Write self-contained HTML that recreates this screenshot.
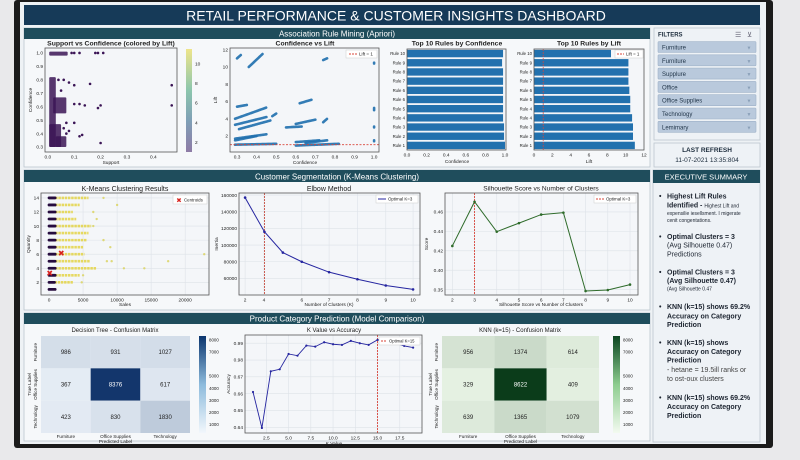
<!DOCTYPE html>
<html><head><meta charset="utf-8"><style>
html,body{margin:0;padding:0;background:#e9e9eb;}
svg{display:block;font-family:"Liberation Sans",sans-serif;}
</style></head><body>
<svg id="dash" width="800" height="460" viewBox="0 0 800 460" xmlns="http://www.w3.org/2000/svg">
<defs>
<linearGradient id="viridis" x1="0" y1="1" x2="0" y2="0"><stop offset="0" stop-color="#8e7ba6"/><stop offset="0.3" stop-color="#7f9fb6"/><stop offset="0.6" stop-color="#8cc6ad"/><stop offset="1" stop-color="#eee58a"/></linearGradient>
<linearGradient id="blues" x1="0" y1="1" x2="0" y2="0"><stop offset="0" stop-color="#f2f7fc"/><stop offset="0.5" stop-color="#8dbbdc"/><stop offset="1" stop-color="#0b356e"/></linearGradient>
<linearGradient id="greens" x1="0" y1="1" x2="0" y2="0"><stop offset="0" stop-color="#f3faf0"/><stop offset="0.5" stop-color="#8dcd8f"/><stop offset="1" stop-color="#0b4520"/></linearGradient>
</defs>
<rect x="0" y="0" width="800" height="460" fill="#e9e9eb"/>
<rect x="14" y="0" width="759" height="448" rx="3" fill="#1b1b1b"/>
<rect x="20" y="2" width="746" height="442" fill="#eef2f5"/>
<rect x="24" y="5" width="736" height="20" fill="#163a58"/>
<text x="396" y="20.5" text-anchor="middle" font-size="14" fill="#fff">RETAIL PERFORMANCE &amp; CUSTOMER INSIGHTS DASHBOARD</text>

<rect x="24" y="28" width="626" height="139" fill="#f6f8fa" stroke="#bcc6cf" stroke-width="0.8"/>
<rect x="24" y="28" width="626" height="11" fill="#1f4d5c"/>
<text x="337" y="36.5" text-anchor="middle" font-size="8" fill="#fff">Association Rule Mining (Apriori)</text>

<rect x="24" y="170" width="626" height="140" fill="#f6f8fa" stroke="#bcc6cf" stroke-width="0.8"/>
<rect x="24" y="170" width="626" height="12" fill="#1f4d5c"/>
<text x="337" y="179.5" text-anchor="middle" font-size="8" fill="#fff">Customer Segmentation (K-Means Clustering)</text>

<rect x="24" y="313" width="626" height="128" fill="#f6f8fa" stroke="#bcc6cf" stroke-width="0.8"/>
<rect x="24" y="313" width="626" height="11" fill="#1f4d5c"/>
<text x="337" y="321.5" text-anchor="middle" font-size="8" fill="#fff">Product Category Prediction (Model Comparison)</text>

<rect x="654" y="28" width="106" height="112" fill="#eef2f6" stroke="#bcc6cf" stroke-width="0.8"/>
<text x="658" y="36.5" font-size="6" font-weight="bold" fill="#1c2c3c">FILTERS</text>
<text x="735" y="37" font-size="7" fill="#667">☰</text>
<text x="747" y="37" font-size="7" fill="#667">⊻</text>
<g id="filters"></g>

<rect x="654" y="143" width="106" height="24" fill="#eef2f6" stroke="#bcc6cf" stroke-width="0.8"/>
<text x="707" y="152" text-anchor="middle" font-size="6.5" font-weight="bold" fill="#1c2c3c">LAST REFRESH</text>
<text x="707" y="162" text-anchor="middle" font-size="6.5" fill="#1c2c3c">11-07-2021 13:35:804</text>

<rect x="653" y="170" width="107" height="272" fill="#eef2f6" stroke="#bcc6cf" stroke-width="0.8"/>
<rect x="653" y="170" width="107" height="13" fill="#1f4d5c"/>
<text x="706" y="179.5" text-anchor="middle" font-size="7.5" fill="#fff">EXECUTIVE SUMMARY</text>
<g font-size="7" fill="#1c2430">
<text x="659" y="198.5" font-weight="bold">•</text>
<text x="667" y="198.5" font-weight="bold">Highest Lift Rules</text>
<text x="667" y="207.5" font-weight="bold">Identified - <tspan font-size="5" font-weight="normal">Highest Lift and</tspan></text>
<text x="667" y="215" font-size="5">expensilie iesellsment. I migerate</text>
<text x="667" y="222" font-size="5">cenit congentations.</text>
<text x="659" y="239" font-weight="bold">•</text>
<text x="667" y="239" font-weight="bold">Optimal Clusters = 3</text>
<text x="667" y="247.7">(Avg Silhouette 0.47)</text>
<text x="667" y="256.3">Predictions</text>
<text x="659" y="274.3" font-weight="bold">•</text>
<text x="667" y="274.3" font-weight="bold">Optimal Clusters = 3</text>
<text x="667" y="283" font-weight="bold">(Avg Silhouette 0.47)</text>
<text x="667" y="290.5" font-size="5">(Avg Silhouette 0.47</text>
<text x="659" y="309" font-weight="bold">•</text>
<text x="667" y="309" font-weight="bold">KNN (k=15) shows 69.2%</text>
<text x="667" y="318.3" font-weight="bold">Accuracy on Category</text>
<text x="667" y="327" font-weight="bold">Prediction</text>
<text x="659" y="345" font-weight="bold">•</text>
<text x="667" y="345" font-weight="bold">KNN (k=15) shows</text>
<text x="667" y="354" font-weight="bold">Accuracy  on Category</text>
<text x="667" y="362.7" font-weight="bold">Prediction</text>
<text x="667" y="372" fill="#444">- hetane = 19.5ill ranks or</text>
<text x="667" y="381" fill="#444">to ost-oux clusters</text>
<text x="659" y="400" font-weight="bold">•</text>
<text x="667" y="400" font-weight="bold">KNN (k=15) shows 69.2%</text>
<text x="667" y="409" font-weight="bold">Accuracy on Category</text>
<text x="667" y="418" font-weight="bold">Prediction</text>
</g>
<g id="charts"></g>
</svg>
<script>
// ---------- data ----------
const filterLabels = ["Furniture","Furniture","Supplure","Office","Office Supplies","Technology","Lemimary"];

// Support vs Confidence
const scBlobs = [[0.005,0.075,0.98,1.01],[0.005,0.03,0.3,0.82],[0.02,0.07,0.55,0.67],[0.005,0.05,0.3,0.47],[0.03,0.07,0.3,0.38]];
const scSupport = [0.09,0.1,0.12,0.18,0.19,0.21,0.04,0.06,0.08,0.1,0.16,0.1,0.12,0.14,0.2,0.19,0.47,0.47,0.07,0.1,0.08,0.06,0.12,0.13,0.2,0.07,0.05];
const scConf =    [1.0,1.0,1.0,1.0,1.0,1.0,0.8,0.8,0.78,0.76,0.77,0.62,0.62,0.61,0.61,0.59,0.76,0.61,0.48,0.48,0.42,0.44,0.38,0.39,0.33,0.4,0.72];
const liftTicks = [2,4,6,8,10];

// Confidence vs Lift (bands of points: conf0, lift0, conf1, lift1)
const clBands = [[0.29,1.0,0.5,1.1],[0.29,1.5,0.4,2.0],[0.29,1.7,0.45,2.2],[0.29,3.3,0.45,4.2],[0.31,2.8,0.47,3.8],[0.29,4.0,0.45,5.3],[0.3,5.4,0.35,5.6],[0.3,11.0,0.32,11.4],[0.36,10.0,0.43,11.5],[0.55,3.0,0.63,3.1],[0.6,3.4,0.7,3.9],[0.65,1.2,0.76,1.5],[0.6,0.9,0.82,1.1],[0.6,1.3,0.72,1.5],[0.74,3.6,0.76,4.0],[0.74,10.8,0.76,11.0],[1.0,10.4,1.0,10.5],[1.0,5.0,1.0,5.3],[1.0,3.0,1.0,3.1],[1.0,1.4,1.0,1.5],[0.62,5.8,0.68,6.2],[0.48,4.3,0.5,4.6]];

// Top rules
const confRules = ["Rule 10","Rule 9","Rule 8","Rule 7","Rule 6","Rule 6","Rule 5","Rule 4","Rule 3","Rule 2","Rule 1"];
const confValues = [0.98,0.97,0.98,0.98,0.98,0.98,0.98,0.98,0.99,0.99,1.0];
const liftRules = ["Rule 10","Rule 9","Rule 8","Rule 7","Rule 6","Rule 5","Rule 4","Rule 4","Rule 3","Rule 2","Rule 1"];
const liftValues = [8.4,10.3,10.3,10.3,10.4,10.5,10.5,10.7,10.8,10.8,11.0];

// K-Means
const kmQty = [1,2,3,4,5,6,7,8,9,10,11,12,13,14];
const kmDarkMax = [900,800,900,900,900,900,900,900,900,900,900,900,900,900];
const kmYellowMax = [1000,3500,4500,7000,6000,5200,5000,5500,5800,6200,4000,3500,4500,5800];
const kmOutSales = [8000,10000,6500,7000,6500,8000,9000,22800,17500,8500,9200,11000,14000,4800,5000];
const kmOutQty =   [14,13,12,11,10,8,7,6,5,5,5,4,4,2,3];
const kmCentSales = [1800,100];
const kmCentQty = [6.2,3.3];

// Elbow
const elbowK = [2,2.92,3.8,4.7,6,7.35,8.7,10];
const elbowInertia = [157000,116000,91000,80000,67500,59000,51500,46800];
const elbowTickVals = [2,2.9,4.7,6,7.35,8.7,10];
const elbowTickLabels = ["2","4","6","7","8","9","10"];

// Silhouette
const silK = [2,3,4,5,6,7,8,9,10];
const silScore = [0.425,0.4705,0.4397,0.4485,0.4573,0.4593,0.3786,0.3796,0.3852];
const silTickVals = [0.38,0.40,0.42,0.44,0.46];
const silTickLabels = ["0.35","0.40","0.42","0.44","0.46"];

// K vs accuracy
const accK = [1,2,3,4,5,6,7,8,9,10,11,12,13,14,15,16,17,18,19];
const accVal = [0.961,0.9396,0.9733,0.9745,0.9836,0.9826,0.9886,0.988,0.9906,0.9894,0.989,0.9914,0.99,0.989,0.992,0.991,0.99,0.9884,0.9874];
const accTickVals = [0.94,0.95,0.96,0.97,0.98,0.99];
const accTickLabels = ["0.64","0.65","0.66","0.67","0.98","0.99"];

// Confusion matrices
const cmClasses = ["Furniture","Office Supplies","Technology"];
const dtMatrix = [[986,931,1027],[367,8376,617],[423,830,1830]];
const knnMatrix = [[956,1374,614],[329,8622,409],[639,1365,1079]];
const cbTicks = [1000,2000,3000,4000,5000,7000,8000];

// ---------- helpers ----------
const NS = "http://www.w3.org/2000/svg";
const root = document.getElementById('charts');
function mk(tag, attrs, parent){const e=document.createElementNS(NS,tag);for(const k in attrs)e.setAttribute(k,attrs[k]);(parent||root).appendChild(e);return e;}
function lin(d0,d1,r0,r1){return v=>r0+(v-d0)/(d1-d0)*(r1-r0);}
function txt(x,y,s,size,anchor,parent,extra){const t=mk('text',Object.assign({x:x,y:y,'font-size':size,'text-anchor':anchor||'middle',fill:'#222'},extra||{}),parent);t.textContent=s;return t;}
function lerpColor(a,b,t){const pa=[1,3,5].map(i=>parseInt(a.substr(i,2),16)),pb=[1,3,5].map(i=>parseInt(b.substr(i,2),16));return 'rgb('+pa.map((v,i)=>Math.round(v+(pb[i]-v)*t)).join(',')+')';}

function frame(name,x0,y0,x1,y1,xTickV,xTickL,xs,yTickV,yTickL,ys,grid){
  const g=mk('g',{});
  
  
  const bg=mk('rect',{x:x0,y:y0,width:x1-x0,height:y1-y0,fill:'#f4f6f9'},g);
  
  
  xTickV.forEach((v,i)=>{
    const px=xs(v);
    if(grid){const l=mk('line',{x1:px,x2:px,y1:y0,y2:y1,stroke:'#dde2e8','stroke-width':0.6},g);}
    const t=txt(px,y1+6.5,xTickL[i],4.8,'middle',g);
    
    
  });
  yTickV.forEach((v,i)=>{
    const py=ys(v);
    if(grid){const l=mk('line',{x1:x0,x2:x1,y1:py,y2:py,stroke:'#dde2e8','stroke-width':0.6},g);}
    const t=txt(x0-2,py+1.7,yTickL[i],4.8,'end',g);
    
    
  });
  return g;
}
function border(g,x0,y0,x1,y1){const b=mk('rect',{x:x0,y:y0,width:x1-x0,height:y1-y0,fill:'none',stroke:'#555','stroke-width':0.8},g);}
function title(x,y,s,size,bold){const t=txt(x,y,s,size,'middle',root,bold?{'font-weight':'bold'}:{});return t;}
function axisTitle(x,y,s,rot){const t=txt(x,y,s,4.8,'middle',root,rot?{transform:'rotate(-90 '+x+' '+y+')'}:{});}

// ---------- filters ----------
const fg=document.getElementById('filters');
filterLabels.forEach((f,i)=>{
  const y=41.5+i*13.3;
  const r=mk('rect',{x:658,y:y,width:98,height:11,fill:'#b9c9dc',stroke:'#9fb2c8','stroke-width':0.6,rx:1},fg);
  
  
  const t=txt(662,y+8,f,6,'start',fg,{fill:'#1f3347'});
  
  
  const a=txt(749,y+8,'▼',5,'middle',fg,{fill:'#8aa0b8'});
  
  
});

// ---------- Chart 1: Support vs Confidence ----------
(function(){
  const x0=45,x1=177,y0=48,y1=152;
  const xs=lin(-0.011,0.49,x0,x1), ys=lin(0.263,1.037,y1,y0);
  title(111,45.5,'Support vs Confidence (colored by Lift)',6.8,true);
  const g=frame('support-confidence-chart',x0,y0,x1,y1,[0,0.1,0.2,0.3,0.4],['0.0','0.1','0.2','0.3','0.4'],xs,[0.3,0.4,0.5,0.6,0.7,0.8,0.9,1.0],['0.3','0.4','0.5','0.6','0.7','0.8','0.9','1.0'],ys,false);
  scBlobs.forEach(b=>{
    const r=mk('rect',{x:xs(b[0]),y:ys(b[3]),width:xs(b[1])-xs(b[0]),height:ys(b[2])-ys(b[3]),fill:'#3b1556',opacity:0.85,rx:1},g);
    
    
  });
  scSupport.forEach((s,i)=>{
    const c=mk('circle',{cx:xs(s),cy:ys(scConf[i]),r:1.3,fill:'#3b1556'},g);
    
    
  });
  border(g,x0,y0,x1,y1);
  axisTitle(111,164,'Support');
  axisTitle(32,100,'Confidence',true);
  const cb=mk('rect',{x:186,y:49,width:6,height:103,fill:'url(#viridis)'});
  
  
  const cs=lin(1,11.5,152,49);
  liftTicks.forEach(v=>{const t=txt(195,cs(v)+1.7,String(v),4.8,'start');});
})();

// ---------- Chart 2: Confidence vs Lift ----------
(function(){
  const x0=230,x1=379,y0=48,y1=152;
  const xs=lin(0.264,1.025,x0,x1), ys=lin(0.15,12.2,y1,y0);
  title(305,45.5,'Confidence vs Lift',6.8,true);
  const g=frame('confidence-lift-chart',x0,y0,x1,y1,[0.3,0.4,0.5,0.6,0.7,0.8,0.9,1.0],['0.3','0.4','0.5','0.6','0.7','0.8','0.9','1.0'],xs,[2,4,6,8,10,12],['2','4','6','8','10','12'],ys,false);
  clBands.forEach(b=>{
    const l=mk('line',{x1:xs(b[0]),y1:ys(b[1]),x2:xs(b[2]),y2:ys(b[3]),stroke:'#1f6fae','stroke-width':2.6,'stroke-linecap':'round','stroke-dasharray':'2.2 0.6',opacity:0.9},g);
    
    
  });
  const ref=mk('line',{x1:x0,x2:x1,y1:ys(1),y2:ys(1),stroke:'#d9453a','stroke-width':0.9,'stroke-dasharray':'2 1.5'},g);
  
  
  border(g,x0,y0,x1,y1);
  const lg=mk('rect',{x:346,y:50,width:31,height:8,fill:'#fff',stroke:'#ccc','stroke-width':0.5});
  
  
  const ll=mk('line',{x1:349,x2:357,y1:54,y2:54,stroke:'#d9453a','stroke-width':0.9,'stroke-dasharray':'2 1'});
  
  
  const lt=txt(359,55.7,'Lift = 1',4.6,'start');
  
  
  axisTitle(305,164,'Confidence');
  axisTitle(217,100,'Lift',true);
})();

// ---------- Bar charts ----------
function barChart(name,ttl,cx,x0,x1,dmax,labels,values,xt,xtl,xlabel,ref){
  const y0=49,y1=150;
  const xs=lin(0,dmax,x0,x1);
  const band=(y1-y0)/labels.length;
  title(cx,45.5,ttl,6.8,true);
  const g=frame(name,x0,y0,x1,y1,xt,xtl,xs,[],[],null,false);
  labels.forEach((lab,i)=>{
    const y=y0+i*band;
    const r=mk('rect',{x:x0,y:y+0.9,width:xs(values[i])-x0,height:band-1.8,fill:'#2271ae'},g);
    
    
    const t=txt(x0-2,y+band/2+1.6,lab,4.3,'end',g);
    
    
  });
  if(ref){
    const l=mk('line',{x1:xs(1),x2:xs(1),y1:y0,y2:y1,stroke:'#d9453a','stroke-width':0.7,'stroke-dasharray':'2 1'},g);
    
    
    const lg=mk('rect',{x:x1-29,y:y0+1,width:28,height:8,fill:'#fff',stroke:'#ccc','stroke-width':0.5},g);
    
    
    const ls=mk('line',{x1:x1-27,x2:x1-20,y1:y0+5,y2:y0+5,stroke:'#d9453a','stroke-width':0.9,'stroke-dasharray':'2 1'},g);
    
    
    const lt=txt(x1-18,y0+6.7,'Lift = 1',4.4,'start',g);
    
    
  }
  border(g,x0,y0,x1,y1);
  axisTitle(cx,163,xlabel);
}
barChart('top-rules-confidence-chart','Top 10 Rules by Confidence',457,407,506,1.01,confRules,confValues,[0,0.2,0.4,0.6,0.8,1.0],['0.0','0.2','0.4','0.6','0.8','1.0'],'Confidence',false);
barChart('top-rules-lift-chart','Top 10 Rules by Lift',589,534,644,12,liftRules,liftValues,[0,2,4,6,8,10,12],['0','2','4','6','8','10','12'],'Lift',true);

// ---------- K-Means ----------
(function(){
  const x0=41,x1=209,y0=193,y1=295;
  const xs=lin(-1180,23500,x0,x1), ys=lin(0.2,14.7,y1,y0);
  title(125,191,'K-Means Clustering Results',7,false);
  const g=frame('kmeans-chart',x0,y0,x1,y1,[0,5000,10000,15000,20000],['0','5000','10000','15000','20000'],xs,[2,4,6,8,10,12,14],['2','4','6','8','10','12','14'],ys,true);
  kmQty.forEach((q,i)=>{
    const ly=mk('line',{x1:xs(kmDarkMax[i]),x2:xs(kmYellowMax[i]),y1:ys(q),y2:ys(q),stroke:'#e4d447','stroke-width':2.6,'stroke-dasharray':'2.5 0.7',opacity:0.85},g);
    
    
    const ld=mk('line',{x1:xs(0),x2:xs(kmDarkMax[i]),y1:ys(q),y2:ys(q),stroke:'#260c3e','stroke-width':2.8,'stroke-linecap':'round'},g);
    
    
  });
  kmOutSales.forEach((s,i)=>{
    const c=mk('circle',{cx:xs(s),cy:ys(kmOutQty[i]),r:1.2,fill:'#d9d25a',opacity:0.8},g);
    
    
  });
  kmCentSales.forEach((s,i)=>{
    const t=txt(xs(s),ys(kmCentQty[i])+3,'✖',8,'middle',g,{fill:'#d8231f','font-family':'DejaVu Sans'});
    
    
  });
  border(g,x0,y0,x1,y1);
  const lg=mk('rect',{x:173,y:195,width:34,height:9,fill:'#fff',stroke:'#ccc','stroke-width':0.5},g);
  
  
  const lm=txt(179,202.5,'✖',6.5,'middle',g,{fill:'#d8231f','font-family':'DejaVu Sans'});
  
  
  const lt=txt(184,201.7,'Centroids',4.4,'start',g);
  
  
  axisTitle(125,306,'Sales');
  axisTitle(30,244,'Quantity',true);
})();

// ---------- Elbow ----------
(function(){
  const x0=239,x1=420,y0=193,y1=295;
  const xs=lin(1.71,10.33,x0,x1), ys=lin(40100,162500,y1,y0);
  title(329,191,'Elbow Method',7,false);
  const g=frame('elbow-chart',x0,y0,x1,y1,elbowTickVals,elbowTickLabels,xs,[60000,80000,100000,120000,140000,160000],['60000','80000','100000','120000','140000','160000'],ys,true);
  const vl=mk('line',{x1:xs(2.92),x2:xs(2.92),y1:y0,y2:y1,stroke:'#c0392b','stroke-width':0.8,'stroke-dasharray':'2 1'},g);
  
  
  const p=mk('polyline',{points:elbowK.map((k,i)=>xs(k)+','+ys(elbowInertia[i])).join(' '),fill:'none',stroke:'#2525a0','stroke-width':1},g);
  
  
  elbowK.forEach((k,i)=>{
    const c=mk('circle',{cx:xs(k),cy:ys(elbowInertia[i]),r:1.3,fill:'#2525a0'},g);
    
    
  });
  border(g,x0,y0,x1,y1);
  const lg=mk('rect',{x:376,y:195,width:42,height:8,fill:'#fff',stroke:'#ccc','stroke-width':0.5},g);
  
  
  const ls=mk('line',{x1:378,x2:386,y1:199,y2:199,stroke:'#2525a0','stroke-width':1},g);
  
  
  const lt=txt(388,200.6,'Optimal K=3',4.4,'start',g);
  
  
  axisTitle(329,306,'Number of Clusters (K)');
  axisTitle(218,244,'Inertia',true);
})();

// ---------- Silhouette ----------
(function(){
  const x0=445,x1=638,y0=193,y1=295;
  const xs=lin(1.67,10.36,x0,x1), ys=lin(0.3745,0.4795,y1,y0);
  title(541,190.5,'Silhouette Score vs Number of Clusters',6.6,false);
  const g=frame('silhouette-chart',x0,y0,x1,y1,silK,silK.map(String),xs,silTickVals,silTickLabels,ys,true);
  const vl=mk('line',{x1:xs(3),x2:xs(3),y1:y0,y2:y1,stroke:'#d9453a','stroke-width':0.9,'stroke-dasharray':'2 1'},g);
  
  
  const p=mk('polyline',{points:silK.map((k,i)=>xs(k)+','+ys(silScore[i])).join(' '),fill:'none',stroke:'#2e6b2a','stroke-width':1},g);
  
  
  silK.forEach((k,i)=>{
    const c=mk('circle',{cx:xs(k),cy:ys(silScore[i]),r:1.3,fill:'#2e6b2a'},g);
    
    
  });
  border(g,x0,y0,x1,y1);
  const lg=mk('rect',{x:594,y:195,width:42,height:8,fill:'#fff',stroke:'#ccc','stroke-width':0.5},g);
  
  
  const ls=mk('line',{x1:596,x2:604,y1:199,y2:199,stroke:'#d9453a','stroke-width':0.9,'stroke-dasharray':'2 1'},g);
  
  
  const lt=txt(606,200.6,'Optimal K=3',4.4,'start',g);
  
  
  axisTitle(541,306,'Silhouette Score vs Number of Clusters');
  axisTitle(428,244,'Score',true);
})();

// ---------- Confusion matrices ----------
function confMatrix(name,ttl,cx,x0,x1,cbx,mat,c0,c1,grad){
  const y0=336,y1=433;
  const cw=(x1-x0)/3,ch=(y1-y0)/3;
  title(cx,332,ttl,6,false);
  const g=mk('g',{});
  
  
  mat.forEach((row,r)=>row.forEach((v,c)=>{
    const t=Math.min(1,v/8700);
    const rc=mk('rect',{x:x0+c*cw,y:y0+r*ch,width:cw,height:ch,fill:lerpColor(c0,c1,t)},g);
    
    
    const tx=txt(x0+c*cw+cw/2,y0+r*ch+ch/2+2,String(v),6,'middle',g,{fill:t>0.5?'#fff':'#222'});
    
    
  }));
  cmClasses.forEach((cl,i)=>{
    const t=txt(x0+i*cw+cw/2,y1+5,cl,4.6,'middle',g);
    
    
    const yy=y0+i*ch+ch/2;
    const t2=txt(x0-4,yy,cl,4.6,'middle',g,{transform:'rotate(-90 '+(x0-4)+' '+yy+')'});
    
    
  });
  axisTitle(x0+cw*1.5,y1+10,'Predicted Label');
  axisTitle(x0-10,y0+ch*1.5,'True Label',true);
  const cb=mk('rect',{x:cbx,y:y0,width:7,height:y1-y0,fill:grad},g);
  
  
  const cs=lin(300,8300,y1,y0);
  cbTicks.forEach(v=>{const t=txt(cbx+10,cs(v)+1.7,String(v),4.4,'start',g);});
}
confMatrix('decision-tree-matrix','Decision Tree - Confusion Matrix',115,41,190,199,dtMatrix,'#eef4fa','#0b2f66','url(#blues)');
confMatrix('knn-matrix','KNN (k=15) - Confusion Matrix',520,442,599,613,knnMatrix,'#eef8ea','#093a18','url(#greens)');

// ---------- K vs Accuracy ----------
(function(){
  const x0=245,x1=422,y0=335,y1=433;
  const xs=lin(0.1,20,x0,x1), ys=lin(0.9366,0.9949,y1,y0);
  title(334,332,'K Value vs Accuracy',6,false);
  const g=frame('k-accuracy-chart',x0,y0,x1,y1,[2.5,5,7.5,10,12.5,15,17.5],['2.5','5.0','7.5','10.0','12.5','15.0','17.5'],xs,accTickVals,accTickLabels,ys,true);
  const vl=mk('line',{x1:xs(15),x2:xs(15),y1:y0,y2:y1,stroke:'#d9453a','stroke-width':0.9,'stroke-dasharray':'2 1'},g);
  
  
  const p=mk('polyline',{points:accK.map((k,i)=>xs(k)+','+ys(accVal[i])).join(' '),fill:'none',stroke:'#2525a0','stroke-width':0.9},g);
  
  
  accK.forEach((k,i)=>{
    const c=mk('circle',{cx:xs(k),cy:ys(accVal[i]),r:1.1,fill:'#2525a0'},g);
    
    
  });
  border(g,x0,y0,x1,y1);
  const lg=mk('rect',{x:379,y:337,width:41,height:8,fill:'#fff',stroke:'#ccc','stroke-width':0.5},g);
  
  
  const ls=mk('line',{x1:381,x2:387,y1:341,y2:341,stroke:'#d9453a','stroke-width':0.9,'stroke-dasharray':'2 1'},g);
  
  
  const lt=txt(389,342.6,'Optimal K=15',4.2,'start',g);
  
  
  axisTitle(334,445,'K Value');
  axisTitle(230,384,'Accuracy',true);
})();
</script>
</body></html>
